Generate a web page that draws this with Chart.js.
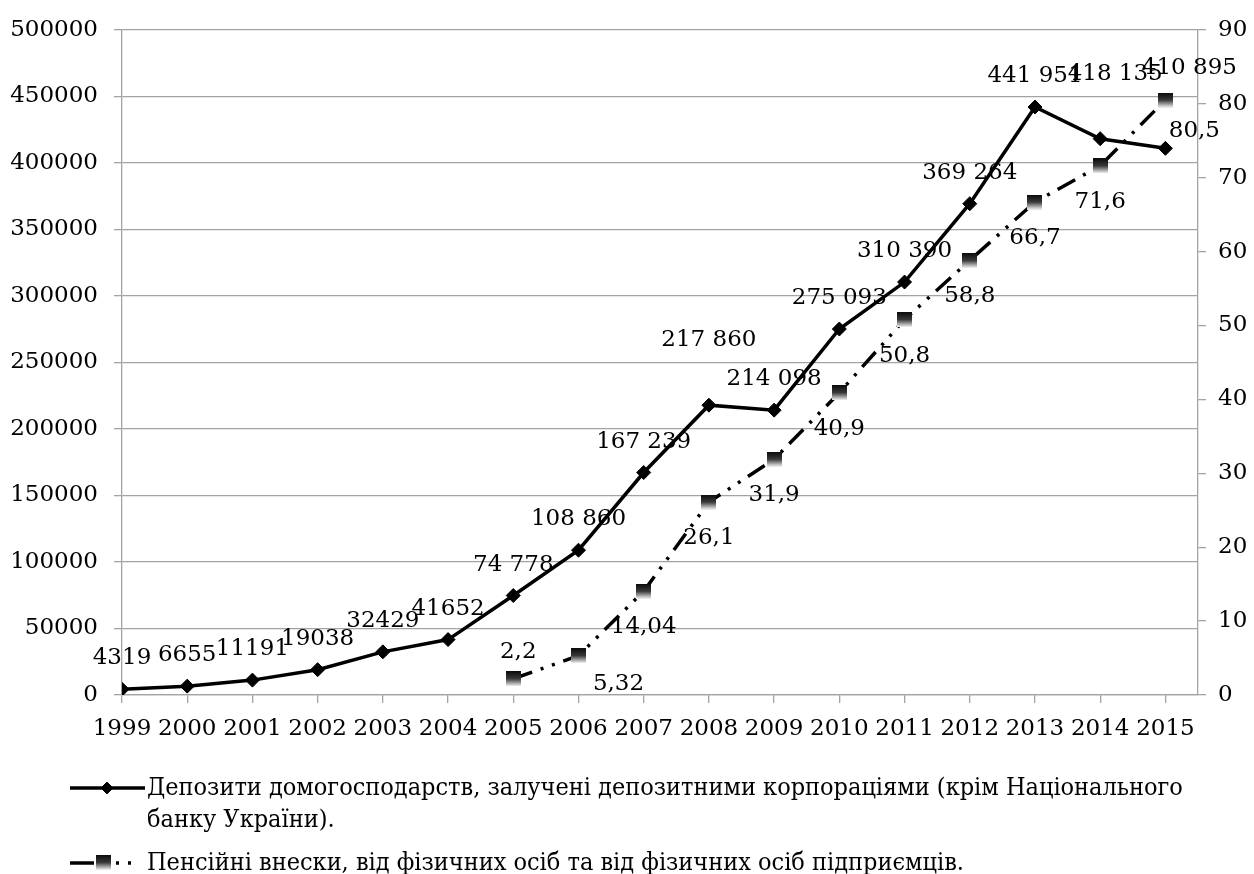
<!DOCTYPE html>
<html>
<head>
<meta charset="utf-8">
<script src="https://cdn.jsdelivr.net/npm/chart.js@4.4.0/dist/chart.umd.min.js"></script>
<style>
  html, body { margin: 0; padding: 0; background: #fff; }
</style>
</head>
<body>
<canvas id="depositsChart" width="1254" height="874"></canvas>
<script>
const years = [1999, 2000, 2001, 2002, 2003, 2004, 2005, 2006, 2007, 2008, 2009, 2010, 2011, 2012, 2013, 2014, 2015];
const deposits = [4319, 6655, 11191, 19038, 32429, 41652, 74778, 108860, 167239, 217860, 214098, 275093, 310390, 369264, 441951, 418135, 410895];
const depositText = ["4319", "6655", "11191", "19038", "32429", "41652", "74 778", "108 860", "167 239", "217 860", "214 098", "275 093", "310 390", "369 264", "441 951", "418 135", "410 895"];

const pensionYears = [2005, 2006, 2007, 2008, 2009, 2010, 2011, 2012, 2013, 2014, 2015];
const pension = [2.2, 5.32, 14.04, 26.1, 31.9, 40.9, 50.8, 58.8, 66.7, 71.6, 80.5];
const pensionText = ["2,2", "5,32", "14,04", "26,1", "31,9", "40,9", "50,8", "58,8", "66,7", "71,6", "80,5"];

const leftMax = 500000;
const leftStep = 50000;
const rightMax = 90;
const rightStep = 10;

const depositName = "Депозити домогосподарств, залучені депозитними корпораціями (крім Національного банку України).";
const pensionName = "Пенсійні внески, від фізичних осіб та від фізичних осіб підприємців.";

const numFont = "23px 'DejaVu Serif', serif";
const legendFont = "25px 'DejaVu Serif Condensed', 'DejaVu Serif', serif";
const gridGrey = "#a3a3a3";

// square marker with the black-to-white fill of the original
function squareMarker(size) {
  const c = document.createElement("canvas");
  c.width = size;
  c.height = size;
  const g = c.getContext("2d");
  const grad = g.createLinearGradient(0, 0, 0, size);
  grad.addColorStop(0, "#0a0a0a");
  grad.addColorStop(0.5, "#3a3a3a");
  grad.addColorStop(1, "#f4f4f4");
  g.fillStyle = grad;
  g.fillRect(0, 0, size, size);
  return c;
}
const pensionMarker = squareMarker(15);
const pensionDash = [20, 9, 3, 9, 3, 9];

const valueLabels = {
  id: "valueLabels",
  afterDatasetsDraw(chart, args, opts) {
    const ctx = chart.ctx;
    ctx.save();
    ctx.font = numFont;
    ctx.fillStyle = "#000";
    ctx.textAlign = "center";
    ctx.textBaseline = "alphabetic";
    chart.data.datasets.forEach((ds, di) => {
      const meta = chart.getDatasetMeta(di);
      const place = opts.place[di];
      meta.data.forEach((pt, i) => {
        const s = place.shift[i] || {};
        const x = pt.x + (s.dx || 0);
        const y = pt.y + place.gap + (s.dy || 0);
        ctx.fillText(ds.valueText[i], x, y);
      });
    });
    ctx.restore();
  },
};

const wrappedLegend = {
  id: "wrappedLegend",
  afterDraw(chart, args, opts) {
    const ctx = chart.ctx;
    ctx.save();
    ctx.font = legendFont;
    ctx.textBaseline = "middle";
    ctx.textAlign = "left";
    opts.rows.forEach((row, ri) => {
      const ds = chart.data.datasets[ri];
      const y = row.y;
      // sample line
      ctx.save();
      ctx.strokeStyle = "#000";
      ctx.lineWidth = ds.borderWidth;
      ctx.setLineDash(row.dash);
      ctx.beginPath();
      ctx.moveTo(opts.x0, y);
      ctx.lineTo(opts.x1, y);
      ctx.stroke();
      ctx.restore();
      if (ds.pointStyle === "rectRot") {
        ctx.fillStyle = "#000";
        Chart.helpers.drawPoint(ctx, { pointStyle: "rectRot", radius: 6, borderWidth: 1, rotation: 0 }, row.mx, y);
      } else {
        ctx.drawImage(ds.pointStyle, row.mx - 7, y - 8);
      }
      ctx.fillStyle = "#000";
      // word wrap
      const words = ds.label.split(" ");
      let line = "";
      let ly = y;
      words.forEach((w) => {
        const test = line ? line + " " + w : w;
        if (ctx.measureText(test).width > opts.maxWidth && line) {
          ctx.fillText(line, opts.textX, ly);
          line = w;
          ly += opts.lineHeight;
        } else {
          line = test;
        }
      });
      ctx.fillText(line, opts.textX, ly);
    });
    ctx.restore();
  },
};

const ctx = document.getElementById("depositsChart").getContext("2d");

new Chart(ctx, {
  type: "line",
  data: {
    datasets: [
      {
        label: depositName,
        data: years.map((yr, i) => ({ x: yr, y: deposits[i] })),
        valueText: depositText,
        yAxisID: "y",
        borderColor: "#000",
        backgroundColor: "#000",
        borderWidth: 3.5,
        pointStyle: "rectRot",
        pointRadius: 7,
        pointBorderWidth: 1,
        tension: 0,
      },
      {
        label: pensionName,
        data: pensionYears.map((yr, i) => ({ x: yr, y: pension[i] })),
        valueText: pensionText,
        yAxisID: "y1",
        borderColor: "#000",
        borderWidth: 3.5,
        borderDash: pensionDash,
        pointStyle: pensionMarker,
        tension: 0,
      },
    ],
  },
  options: {
    responsive: false,
    animation: false,
    layout: { padding: { top: 27, left: 0, right: 0, bottom: 0 } },
    plugins: {
      legend: { display: false },
      tooltip: { enabled: false },
      valueLabels: {
        place: [
          { gap: -25, shift: { 9: { dy: -34 }, 15: { dx: 15, dy: -34 }, 16: { dx: 24, dy: -49 } } },
          { gap: 42, shift: { 0: { dx: 5, dy: -63 }, 1: { dx: 40, dy: -8 }, 10: { dx: 29, dy: -5 } } },
        ],
      },
      wrappedLegend: {
        x0: 70,
        x1: 145,
        textX: 147,
        maxWidth: 1060,
        lineHeight: 32,
        rows: [
          { y: 788, mx: 107, dash: [] },
          { y: 863, mx: 103, dash: [24, 22, 3, 9, 3, 100] },
        ],
      },
    },
    scales: {
      x: {
        type: "linear",
        min: years[0],
        max: years[years.length - 1] + 0.5,
        afterFit: (scale) => { scale.height = 179; },
        grid: { drawOnChartArea: false, drawTicks: true, tickLength: 8, color: gridGrey, lineWidth: 1.3 },
        border: { display: true, color: gridGrey, width: 1.3 },
        ticks: {
          stepSize: 1,
          includeBounds: false,
          autoSkip: false,
          maxRotation: 0,
          padding: 12,
          color: "#000",
          font: { family: "'DejaVu Serif', serif", size: 23 },
          callback: (v) => String(v),
        },
      },
      y: {
        position: "left",
        min: 0,
        max: leftMax,
        afterFit: (scale) => { scale.width = 122; },
        grid: { color: gridGrey, lineWidth: 1.3, tickLength: 8 },
        border: { display: true, color: gridGrey, width: 1.3 },
        ticks: {
          stepSize: leftStep,
          padding: 16,
          color: "#000",
          font: { family: "'DejaVu Serif', serif", size: 23 },
          callback: (v) => String(v),
        },
      },
      y1: {
        position: "right",
        min: 0,
        max: rightMax,
        afterFit: (scale) => { scale.width = 56; },
        grid: { drawOnChartArea: false, color: gridGrey, lineWidth: 1.3, tickLength: 8 },
        border: { display: true, color: gridGrey, width: 1.3 },
        ticks: {
          stepSize: rightStep,
          padding: 12,
          color: "#000",
          font: { family: "'DejaVu Serif', serif", size: 23 },
          callback: (v) => String(v),
        },
      },
    },
  },
  plugins: [valueLabels, wrappedLegend],
});
</script>
</body>
</html>
